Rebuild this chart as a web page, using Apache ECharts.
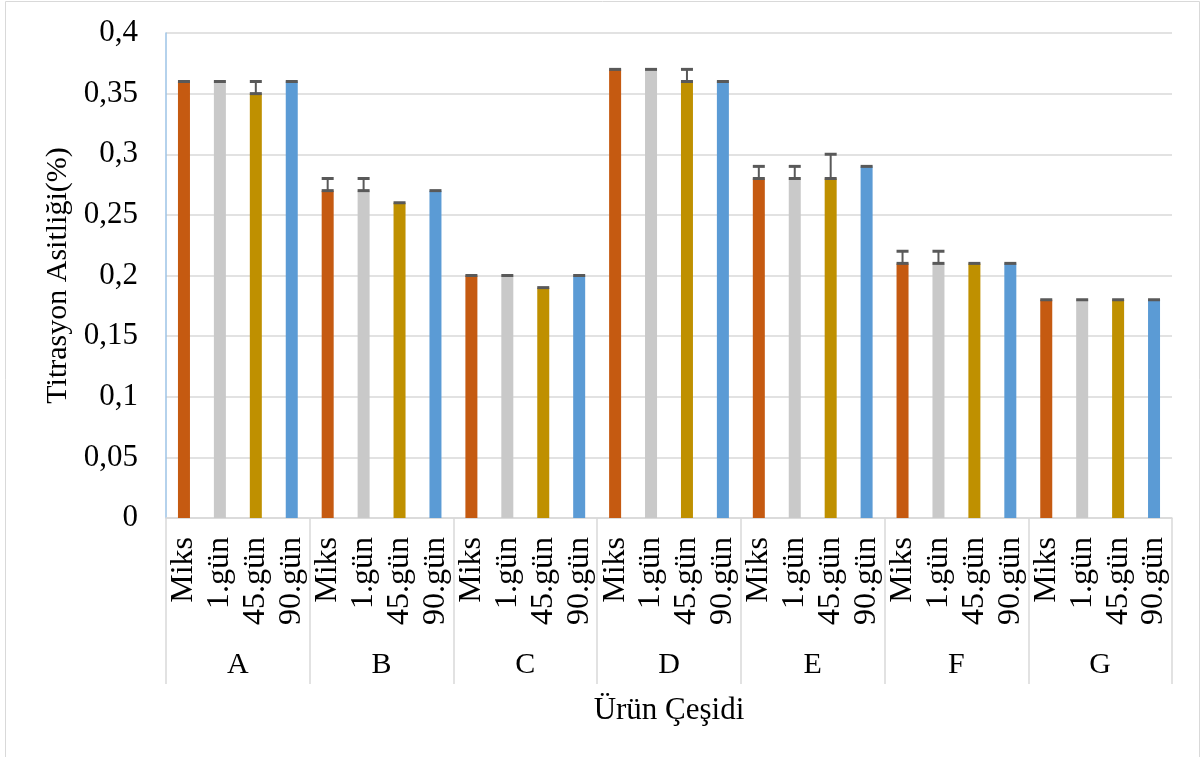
<!DOCTYPE html>
<html>
<head>
<meta charset="utf-8">
<script src="https://cdn.jsdelivr.net/npm/echarts@6/dist/echarts.min.js"></script>
<style>
  html, body { margin: 0; padding: 0; background: #fff; }
  #chart { width: 1203px; height: 757px; }
</style>
</head>
<body>
<div id="chart"></div>
<script>
var groups = ['A', 'B', 'C', 'D', 'E', 'F', 'G'];
var subs = ['Miks', '1.gün', '45.gün', '90.gün'];

// titrasyon asitliği values per product, one array per sampling
var miks  = [0.36, 0.27, 0.20, 0.37, 0.28, 0.21, 0.18];
var gun1  = [0.36, 0.27, 0.20, 0.37, 0.28, 0.21, 0.18];
var gun45 = [0.35, 0.26, 0.19, 0.36, 0.28, 0.21, 0.18];
var gun90 = [0.36, 0.27, 0.20, 0.36, 0.29, 0.21, 0.18];

// plus error bars
var errMiks  = [0, 0.01, 0, 0, 0.01, 0.01, 0];
var errGun1  = [0, 0.01, 0, 0, 0.01, 0.01, 0];
var errGun45 = [0.01, 0, 0, 0.01, 0.02, 0, 0];
var errGun90 = [0, 0, 0, 0, 0, 0, 0];

var colors = ['#c55a11', '#c9c9c9', '#bf9000', '#5b9bd5'];
var font = '"Liberation Serif", "Times New Roman", serif';

var seriesVals = [miks, gun1, gun45, gun90];
var seriesErrs = [errMiks, errGun1, errGun45, errGun90];

var cats = [], barData = [], errData = [];
groups.forEach(function (g, gi) {
    subs.forEach(function (s, si) {
        var idx = cats.length;
        cats.push(g + '|' + s);
        barData.push({ value: seriesVals[si][gi], itemStyle: { color: colors[si] } });
        errData.push([idx, seriesVals[si][gi], seriesErrs[si][gi]]);
    });
});

var chart = echarts.init(document.getElementById('chart'));
chart.setOption({
    animation: false,
    textStyle: { fontFamily: font },
    graphic: [{
        type: 'rect',
        shape: { x: 5.5, y: 1.5, width: 1194, height: 770 },
        style: { fill: 'none', stroke: '#d9d9d9', lineWidth: 1 },
        silent: true
    }],
    grid: { left: 166, right: 31, top: 33, bottom: 239 },
    xAxis: [{
        type: 'category',
        data: cats,
        axisLine: { show: true, lineStyle: { color: '#d9d9d9', width: 1.5 } },
        axisTick: { show: false },
        axisLabel: {
            interval: 0,
            rotate: 90,
            margin: 19,
            fontSize: 32,
            color: '#000',
            fontFamily: font,
            formatter: function (v) { return v.split('|')[1]; }
        }
    }, {
        type: 'category',
        data: groups,
        position: 'bottom',
        axisLine: { show: false },
        axisTick: {
            show: true,
            interval: 0,
            length: 166,
            lineStyle: { color: '#d9d9d9', width: 1.5 }
        },
        axisLabel: { interval: 0, margin: 132, fontSize: 30, color: '#000', fontFamily: font },
        name: 'Ürün Çeşidi',
        nameLocation: 'middle',
        nameGap: 177,
        nameTextStyle: { fontSize: 31, color: '#000', fontFamily: font }
    }],
    yAxis: {
        type: 'value',
        min: 0,
        max: 0.4,
        interval: 0.05,
        name: 'Titrasyon Asitliği(%)',
        nameLocation: 'middle',
        nameRotate: 90,
        nameGap: 88,
        nameTextStyle: { fontSize: 30, color: '#000', fontFamily: font },
        axisLine: { show: true, lineStyle: { color: '#9dc3e6', width: 1.5 } },
        axisTick: { show: false },
        splitLine: { lineStyle: { color: '#d9d9d9', width: 1.5 } },
        axisLabel: {
            margin: 28,
            fontSize: 31,
            color: '#000',
            fontFamily: font,
            formatter: function (v) { return String(+v.toFixed(2)).replace('.', ','); }
        }
    },
    series: [{
        type: 'bar',
        data: barData,
        barWidth: 12,
        xAxisIndex: 0
    }, {
        type: 'custom',
        xAxisIndex: 0,
        data: errData,
        z: 10,
        renderItem: function (params, api) {
            var i = api.value(0);
            var v = api.value(1);
            var e = api.value(2);
            var base = api.coord([i, v]);
            var top = api.coord([i, v + e]);
            var hw = 6;
            var st = { stroke: '#595959', lineWidth: 3 };
            var children = [{
                type: 'line',
                shape: { x1: base[0] - hw, y1: base[1], x2: base[0] + hw, y2: base[1] },
                style: st
            }];
            if (e > 0) {
                children.push({
                    type: 'line',
                    shape: { x1: top[0], y1: top[1], x2: top[0], y2: base[1] },
                    style: { stroke: '#595959', lineWidth: 2 }
                });
                children.push({
                    type: 'line',
                    shape: { x1: top[0] - hw, y1: top[1], x2: top[0] + hw, y2: top[1] },
                    style: st
                });
            }
            return { type: 'group', children: children };
        }
    }]
});
</script>
</body>
</html>
